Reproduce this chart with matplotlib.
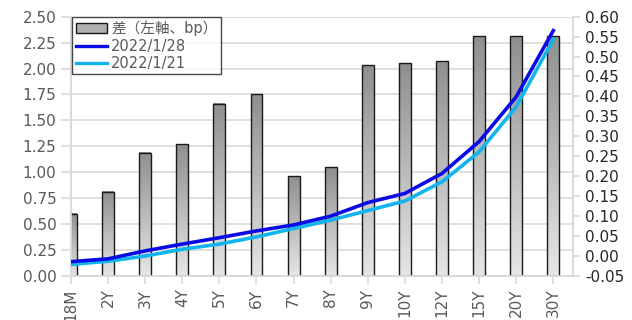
import matplotlib
matplotlib.use("Agg")
import matplotlib.pyplot as plt
import numpy as np
from matplotlib.patches import Patch
from matplotlib.lines import Line2D

plt.rcParams["font.family"] = ["DejaVu Sans", "Noto Sans CJK JP"]

tenors = ["18M", "2Y", "3Y", "4Y", "5Y", "6Y", "7Y", "8Y", "9Y", "10Y", "12Y", "15Y", "20Y", "30Y"]
spread_bp = [0.60, 0.81, 1.19, 1.27, 1.66, 1.75, 0.96, 1.05, 2.03, 2.05, 2.07, 2.31, 2.31, 2.31]
yield_0128 = [-0.014, -0.007, 0.013, 0.030, 0.046, 0.063, 0.078, 0.100, 0.134, 0.157, 0.207, 0.287, 0.399, 0.565]
yield_0121 = [-0.021, -0.013, 0.000, 0.017, 0.030, 0.048, 0.069, 0.090, 0.114, 0.138, 0.186, 0.261, 0.374, 0.543]

GRID = "#d9d9d9"
TXT = "#595959"
XMIN, XMAX = 0, 13.53

fig = plt.figure(figsize=(6.32, 3.2), dpi=100)
ax = fig.add_axes([0.1123, 0.1375, 0.7943, 0.8105])
ax2 = ax.twinx()

x = np.arange(len(tenors))
bars = ax.bar(x, spread_bp, width=0.32, facecolor="none", edgecolor="#1a1a1a", linewidth=1.0, zorder=3)

# vertical grey gradient inside each bar (dark at top, light at bottom)
grad = np.linspace(0, 1, 256).reshape(-1, 1)
cmap = matplotlib.colors.LinearSegmentedColormap.from_list("g", ["#e6e6e6", "#8f8f8f"])
for b in bars:
    x0, w, h = b.get_x(), b.get_width(), b.get_height()
    left, right = max(x0, XMIN), min(x0 + w, XMAX)
    im = ax.imshow(grad, cmap=cmap, origin="lower", aspect="auto",
                   extent=[left, right, 0, h], zorder=2)

ax.set_xlim(XMIN, XMAX)
ax.set_ylim(0, 2.5)
ax.set_yticks(np.arange(0, 2.51, 0.25))
ax.set_yticklabels([f"{v:.2f}" for v in np.arange(0, 2.51, 0.25)])
ax.yaxis.grid(True, color=GRID, linewidth=1.2, zorder=0)
ax.set_axisbelow(True)
ax.set_xticks(x)
ax.set_xticklabels(tenors, rotation=90, fontsize=11, color=TXT)
ax.tick_params(axis="y", labelsize=11, labelcolor=TXT, color=GRID, length=7, width=1.2)
ax.tick_params(axis="x", color=GRID, length=6, width=1.2, pad=3)

ax2.plot(x, yield_0128, color="#0a0ae6", linewidth=2.6, zorder=5)
ax2.plot(x, yield_0121, color="#12b4ee", linewidth=2.6, zorder=4)
ax2.set_ylim(-0.05, 0.60)
ax2.set_yticks(np.arange(-0.05, 0.601, 0.05))
ax2.set_yticklabels([f"{v:.2f}" for v in np.arange(-0.05, 0.601, 0.05)])
ax2.tick_params(axis="y", labelsize=11, labelcolor="#262626", color=GRID, length=5, width=1.2)
ax2.set_xlim(XMIN, XMAX)

for a in (ax, ax2):
    a.spines["top"].set_visible(False)
    for s in ("left", "right", "bottom"):
        a.spines[s].set_color(GRID)
        a.spines[s].set_linewidth(1.2)

handles = [
    Patch(facecolor="#b0b0b0", edgecolor="#1a1a1a", linewidth=1.0),
    Line2D([], [], color="#0a0ae6", linewidth=2.4),
    Line2D([], [], color="#12b4ee", linewidth=2.4),
]
labels = ["差（左軸、bp）", "2022/1/28", "2022/1/21"]
leg = ax2.legend(handles, labels, loc="upper left", bbox_to_anchor=(0.003, 0.998),
                 borderaxespad=0, fontsize=10.5, frameon=True, fancybox=False,
                 handlelength=2.1, handleheight=0.7, labelspacing=0.15,
                 borderpad=0.25, handletextpad=0.3, labelcolor=TXT)
leg.get_frame().set_edgecolor("#1a1a1a")
leg.get_frame().set_linewidth(1.0)

fig.savefig("out.png", dpi=100)
